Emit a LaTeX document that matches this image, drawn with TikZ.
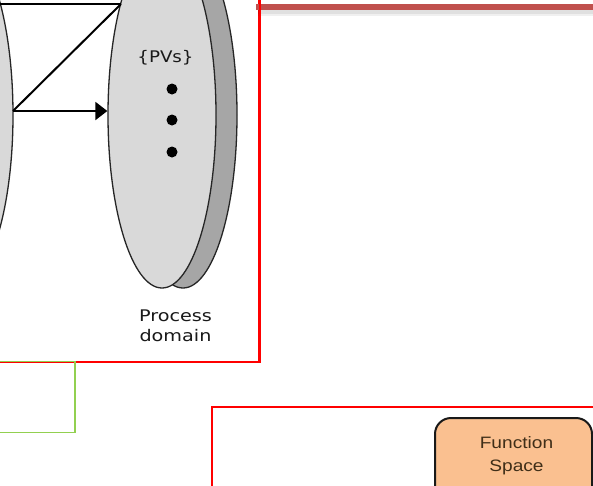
\documentclass[tikz,border=0pt]{standalone}
\usepackage{fontspec}
\usetikzlibrary{shapes.geometric,arrows.meta}
\newfontfamily\verd{DejaVu Sans}
\newfontfamily\arialf{Liberation Sans}
\definecolor{lightell}{HTML}{D9D9D9}
\definecolor{darkell}{HTML}{A6A6A6}
\definecolor{ellline}{HTML}{262626}
\definecolor{barred}{HTML}{C0504D}
\definecolor{grn}{HTML}{92D050}
\definecolor{peach}{HTML}{FAC090}
\definecolor{fstxt}{HTML}{3F2E18}
\tikzset{
  domell/.style={ellipse, draw=ellline, line width=1.3pt, minimum width=108pt, minimum height=346pt, inner sep=0pt},
  conn/.style={line width=2pt, black},
  pvdot/.style={circle, fill=black, minimum size=11pt, inner sep=0pt},
  redframe/.style={draw=red, line width=1.5pt, rectangle, inner sep=0pt},
  grnframe/.style={draw=grn, line width=1.5pt, rectangle, inner sep=0pt},
  fsbox/.style={draw=black!90, line width=2pt, fill=peach, rounded corners=16pt, rectangle, inner sep=0pt},
  vlabel/.style={font=\verd\fontsize{16}{20}\selectfont, text=black!90, inner sep=0pt, align=center},
}
\begin{document}
\begin{tikzpicture}[x=1pt,y=-1pt]
\useasboundingbox (0,0) rectangle (593,485);
\clip (0,0) rectangle (593,485);
\fill[white] (0,0) rectangle (593,485);
% ellipses
\node[domell, fill=lightell] (L) at (-41,115) {};
\node[domell, fill=darkell] (PVback) at (183,115) {};
\node[domell, fill=lightell] (PV) at (162,115) {};
% connectors
\coordinate (a) at (13,111);
\coordinate (tl) at (-5,4);
\coordinate (tp) at (121,4);
\draw[conn] (tl) -- (tp);
\draw[conn] (a) -- (tp);
\draw[conn, -{Triangle[length=12pt,width=18pt]}] (a) -- (PV.west |- a);
% texts in ellipse
\node[vlabel, anchor=base] (pvs) at (165.5,62) {\scalebox{1.14}[1]{\{PVs\}}};
\node[pvdot] (d1) at (172,89) {};
\node[pvdot] (d2) at (172,120) {};
\node[pvdot] (d3) at (172,152) {};
\node[vlabel, anchor=north] (pd) at (175.5,310) {\scalebox{1.2}[1]{Process}\\\scalebox{1.2}[1]{domain}};
% frames
\node[redframe, minimum width=279pt, minimum height=382pt] (rf1) at (119.5,171) {};
\fill[black, opacity=0.12] (258,10) rectangle (593,14);
\fill[black, opacity=0.06] (258,14) rectangle (593,16);
\draw[barred, line width=6.5pt] (256,6.75) -- (600,6.75);
\draw[red, line width=1.5pt] (rf1.north east) -- (rf1.south east);
\node[grnframe, minimum width=95pt, minimum height=71pt] (gf) at (27.5,397) {};
\node[redframe, minimum width=408pt, minimum height=113pt] (rf2) at (416,463.5) {};
\node[fsbox, minimum width=157pt, minimum height=112pt] (fs) at (513.5,474) {};
\node[anchor=north, inner sep=0pt, align=center, text=fstxt, font=\arialf\fontsize{16.5}{23}\selectfont] (fst) at (516.5,436.5) {\scalebox{1.16}[1]{Function}\\\scalebox{1.16}[1]{Space}};
\end{tikzpicture}
\end{document}
